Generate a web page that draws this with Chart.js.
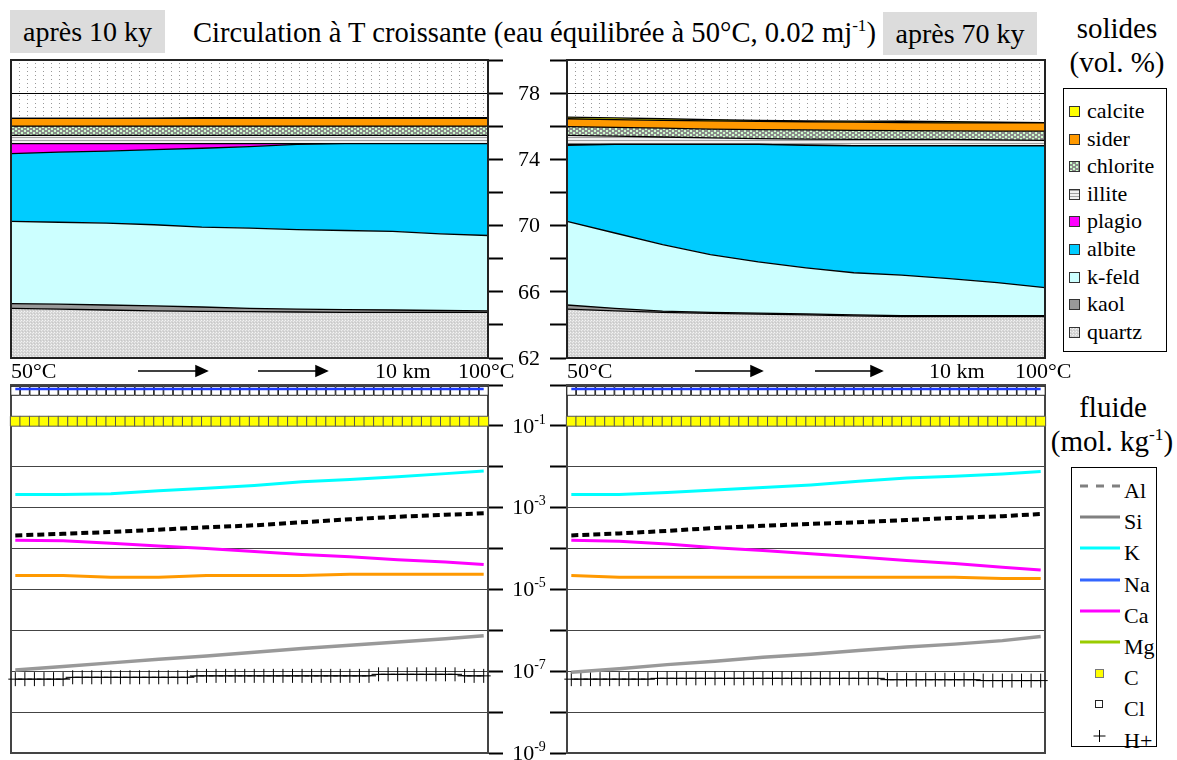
<!DOCTYPE html>
<html lang="fr">
<head>
<meta charset="utf-8">
<title>Circulation à T croissante</title>
<script src="https://cdn.jsdelivr.net/npm/chart.js@4.4.1/dist/chart.umd.min.js"></script>
<style>
  body { margin: 0; background: #fff; font-family: "Liberation Serif", "Times New Roman", serif; color: #000; }
  #page { position: relative; width: 1177px; height: 760px; overflow: hidden; }
  #page canvas { position: absolute; }
  .txt { position: absolute; white-space: nowrap; }
  .tag { position: absolute; background: #dcdcdc; font-size: 28px; height: 43px; line-height: 43px; text-align: center; }
  .axisTxt { position: absolute; font-size: 22px; line-height: 26px; white-space: nowrap; }
  .head { position: absolute; font-size: 29px; line-height: 36px; text-align: center; white-space: nowrap; }
  .legend { position: absolute; border: 1px solid #000; background: #fff; box-sizing: border-box; }
  .row { position: absolute; font-size: 22px; line-height: 24px; white-space: nowrap; }
  sup { font-size: 60%; line-height: 0; }
</style>
</head>
<body>
<div id="page">
  <div class="tag" style="left:10px;top:10px;width:155px;">après 10 ky</div>
  <div class="txt" style="left:193px;top:14px;font-size:28.6px;line-height:38px;">Circulation à T croissante (eau équilibrée à 50°C, 0.02 mj<sup>-1</sup>)</div>
  <div class="tag" style="left:883px;top:12px;width:154px;">après 70 ky</div>

  <div class="head" style="left:1057px;top:10px;width:120px;">solides</div>
  <div class="head" style="left:1057px;top:44px;width:120px;">(vol. %)</div>
  <div class="head" style="left:1053px;top:389px;width:120px;">fluide</div>
  <div class="head" style="left:1047px;top:423px;width:130px;">(mol. kg<sup>-1</sup>)</div>

  <canvas id="solid10" width="560" height="325" style="left:0;top:50px"></canvas>
  <canvas id="solid70" width="520" height="325" style="left:540px;top:50px"></canvas>
  <canvas id="fluid10" width="560" height="385" style="left:0;top:375px"></canvas>
  <canvas id="fluid70" width="520" height="385" style="left:540px;top:375px"></canvas>

  <div class="axisTxt" style="left:11px;top:358px;">50°C</div>
  <div class="axisTxt" style="left:375px;top:358px;">10 km</div>
  <div class="axisTxt" style="left:458px;top:358px;">100°C</div>
  <div class="axisTxt" style="left:567px;top:358px;">50°C</div>
  <div class="axisTxt" style="left:929px;top:358px;">10 km</div>
  <div class="axisTxt" style="left:1015px;top:358px;">100°C</div>
  <svg style="position:absolute;left:0;top:360px" width="1177" height="22">
    <g stroke="#000" stroke-width="1.5" fill="#000">
      <line x1="138" y1="11" x2="197" y2="11"/><polygon points="196,6 207,11 196,16"/>
      <line x1="258" y1="11" x2="317" y2="11"/><polygon points="316,6 327,11 316,16"/>
      <line x1="695" y1="11" x2="752" y2="11"/><polygon points="751,6 762,11 751,16"/>
      <line x1="815" y1="11" x2="872" y2="11"/><polygon points="871,6 882,11 871,16"/>
    </g>
  </svg>

  <div class="legend" id="solidLegend" style="left:1063px;top:88px;width:104px;height:264px;"></div>
  <div class="legend" id="fluidLegend" style="left:1071px;top:467px;width:86px;height:280px;"></div>
</div>

<script>
// ---- solids (vol. %), 11 points along the 10 km path ----
const distKm = [0, 1, 2, 3, 4, 5, 6, 7, 8, 9, 10];
const solidTicks = [62, 64, 66, 68, 70, 72, 74, 76, 78, 80];
const solidTickLabels = [62, 66, 70, 74, 78];

// stack order, bottom to top
const mineralNames = ['quartz', 'kaol', 'k-feld', 'albite', 'plagio', 'illite', 'chlorite', 'sider', 'calcite'];

// after 10 ky
const quartz10 = [65.0, 64.95, 64.9, 64.85, 64.82, 64.8, 64.78, 64.76, 64.75, 64.75, 64.75];
const kaol10 = [0.28, 0.3, 0.3, 0.3, 0.26, 0.2, 0.17, 0.16, 0.15, 0.12, 0.1];
const kfeld10 = [4.97, 4.95, 4.95, 4.9, 4.82, 4.85, 4.8, 4.78, 4.75, 4.63, 4.55];
const albite10 = [4.1, 4.23, 4.35, 4.54, 4.77, 4.92, 5.15, 5.25, 5.3, 5.45, 5.55];
const plagio10 = [0.6, 0.52, 0.45, 0.36, 0.28, 0.18, 0.05, 0, 0, 0, 0];
const illite10 = [0.5, 0.5, 0.5, 0.5, 0.5, 0.5, 0.5, 0.5, 0.5, 0.5, 0.5];
const chlorite10 = [0.55, 0.55, 0.55, 0.55, 0.55, 0.55, 0.55, 0.55, 0.55, 0.55, 0.55];
const sider10 = [0.48, 0.48, 0.48, 0.48, 0.48, 0.48, 0.48, 0.48, 0.48, 0.48, 0.48];
const calcite10 = [0, 0, 0, 0.01, 0.04, 0.04, 0.04, 0.04, 0.04, 0.04, 0.04];

// after 70 ky
const quartz70 = [64.95, 64.85, 64.75, 64.7, 64.65, 64.6, 64.55, 64.5, 64.5, 64.5, 64.5];
const kaol70 = [0.25, 0.15, 0.08, 0.06, 0.06, 0.06, 0.06, 0.06, 0.06, 0.06, 0.06];
const kfeld70 = [5.05, 4.55, 4.02, 3.49, 3.09, 2.79, 2.54, 2.44, 2.24, 1.99, 1.69];
const albite70 = [4.6, 5.35, 6.05, 6.65, 7.1, 7.4, 7.67, 7.82, 8.02, 8.27, 8.57];
const plagio70 = [0.05, 0, 0, 0, 0, 0, 0, 0, 0, 0, 0];
const illite70 = [0.55, 0.5, 0.45, 0.4, 0.35, 0.37, 0.38, 0.38, 0.38, 0.36, 0.33];
const chlorite70 = [0.52, 0.53, 0.53, 0.53, 0.55, 0.56, 0.55, 0.53, 0.52, 0.52, 0.55];
const sider70 = [0.48, 0.47, 0.47, 0.49, 0.5, 0.49, 0.5, 0.49, 0.48, 0.5, 0.5];
const calcite70 = [0.1, 0.1, 0.1, 0.08, 0.05, 0.05, 0.06, 0.08, 0.08, 0.04, 0.02];

// ---- fluid (mol/kg), log scale ----
const fluidTicks = [1e-9, 1e-8, 1e-7, 1e-6, 1e-5, 1e-4, 1e-3, 1e-2, 1e-1, 1];
const fluidTickExps = [-1, -3, -5, -7, -9];

// grid nodes (markers) and the nodes where the lines were read
const nodeIdx = [0, 1, 2, 3, 4, 5, 6, 7, 8, 9, 10, 11, 12, 13, 14, 15, 16, 17, 18, 19, 20, 21, 22, 23, 24,
  25, 26, 27, 28, 29, 30, 31, 32, 33, 34, 35, 36, 37, 38, 39, 40, 41, 42, 43, 44, 45, 46, 47, 48, 49];
const lineIdx = [0, 5, 10, 15, 20, 25, 30, 35, 40, 45, 49];

const al10 = [2.1e-4, 2.3e-4, 2.55e-4, 2.9e-4, 3.3e-4, 3.7e-4, 4.4e-4, 5.2e-4, 6.0e-4, 6.7e-4, 7.3e-4];
const si10 = [1.07e-7, 1.3e-7, 1.6e-7, 1.95e-7, 2.35e-7, 2.9e-7, 3.6e-7, 4.3e-7, 5.2e-7, 6.2e-7, 7.4e-7];
const k10 = [2.1e-3, 2.1e-3, 2.2e-3, 2.6e-3, 3.0e-3, 3.5e-3, 4.3e-3, 4.9e-3, 5.7e-3, 6.8e-3, 7.9e-3];
const na10 = [0.8, 0.8, 0.8, 0.8, 0.8, 0.8, 0.8, 0.8, 0.8, 0.8, 0.8];
const ca10 = [1.6e-4, 1.55e-4, 1.35e-4, 1.15e-4, 1.0e-4, 8.5e-5, 7.2e-5, 6.3e-5, 5.3e-5, 4.7e-5, 4.1e-5];
const mg10 = [2.2e-5, 2.2e-5, 2.0e-5, 2.0e-5, 2.2e-5, 2.2e-5, 2.2e-5, 2.35e-5, 2.35e-5, 2.35e-5, 2.35e-5];
const h10 = [6.4e-8, 6.4e-8, 6.4e-8, 6.4e-8, 6.4e-8, 6.4e-8, 7.1e-8, 7.1e-8, 7.1e-8, 7.1e-8,
  7.1e-8, 7.1e-8, 7.1e-8, 7.1e-8, 7.1e-8, 7.1e-8, 7.1e-8, 7.1e-8, 7.1e-8, 7.7e-8,
  7.7e-8, 7.7e-8, 7.7e-8, 7.7e-8, 7.7e-8, 7.7e-8, 7.7e-8, 7.7e-8, 7.7e-8, 7.7e-8,
  7.7e-8, 7.7e-8, 7.7e-8, 7.7e-8, 7.7e-8, 7.7e-8, 7.7e-8, 7.7e-8, 8.4e-8, 8.4e-8,
  8.4e-8, 8.4e-8, 8.4e-8, 8.4e-8, 8.4e-8, 8.4e-8, 8.4e-8, 7.7e-8, 7.7e-8, 7.7e-8];

const al70 = [2.1e-4, 2.35e-4, 2.7e-4, 3.2e-4, 3.6e-4, 4.0e-4, 4.4e-4, 5.0e-4, 5.6e-4, 6.2e-4, 7.0e-4];
const si70 = [9.5e-8, 1.15e-7, 1.45e-7, 1.75e-7, 2.2e-7, 2.6e-7, 3.2e-7, 3.9e-7, 4.6e-7, 5.6e-7, 7.1e-7];
const k70 = [2.1e-3, 2.1e-3, 2.35e-3, 2.7e-3, 3.1e-3, 3.6e-3, 4.4e-3, 5.3e-3, 5.9e-3, 6.7e-3, 7.7e-3];
const na70 = [0.8, 0.8, 0.8, 0.8, 0.8, 0.8, 0.8, 0.8, 0.8, 0.8, 0.8];
const ca70 = [1.6e-4, 1.5e-4, 1.3e-4, 1.05e-4, 9e-5, 7.5e-5, 6.2e-5, 5.1e-5, 4.3e-5, 3.5e-5, 3.0e-5];
const mg70 = [2.2e-5, 2.0e-5, 2.0e-5, 2.0e-5, 2.0e-5, 2.0e-5, 2.0e-5, 2.0e-5, 2.0e-5, 1.85e-5, 1.85e-5];
const h70 = [6.4e-8, 6.4e-8, 6.4e-8, 6.4e-8, 6.4e-8, 6.4e-8, 6.4e-8, 6.4e-8, 6.4e-8, 6.7e-8,
  6.7e-8, 6.7e-8, 6.7e-8, 6.7e-8, 6.7e-8, 6.7e-8, 6.7e-8, 6.7e-8, 6.7e-8, 6.7e-8,
  6.7e-8, 6.7e-8, 6.7e-8, 6.7e-8, 6.7e-8, 6.7e-8, 6.7e-8, 6.7e-8, 6.7e-8, 6.7e-8,
  6.7e-8, 6.7e-8, 6.7e-8, 6.2e-8, 6.2e-8, 6.2e-8, 6.2e-8, 6.2e-8, 6.2e-8, 6.2e-8,
  6.2e-8, 6.2e-8, 6.2e-8, 5.9e-8, 5.9e-8, 5.9e-8, 5.9e-8, 5.9e-8, 5.9e-8, 5.9e-8];

// C and Cl are flat in both runs
const cMolal = [0.13, 0.13, 0.13, 0.13, 0.13, 0.13, 0.13, 0.13, 0.13, 0.13, 0.13, 0.13, 0.13, 0.13, 0.13,
  0.13, 0.13, 0.13, 0.13, 0.13, 0.13, 0.13, 0.13, 0.13, 0.13, 0.13, 0.13, 0.13, 0.13, 0.13, 0.13, 0.13,
  0.13, 0.13, 0.13, 0.13, 0.13, 0.13, 0.13, 0.13, 0.13, 0.13, 0.13, 0.13, 0.13, 0.13, 0.13, 0.13, 0.13, 0.13];
const clMolal = [0.72, 0.72, 0.72, 0.72, 0.72, 0.72, 0.72, 0.72, 0.72, 0.72, 0.72, 0.72, 0.72, 0.72, 0.72,
  0.72, 0.72, 0.72, 0.72, 0.72, 0.72, 0.72, 0.72, 0.72, 0.72, 0.72, 0.72, 0.72, 0.72, 0.72, 0.72, 0.72,
  0.72, 0.72, 0.72, 0.72, 0.72, 0.72, 0.72, 0.72, 0.72, 0.72, 0.72, 0.72, 0.72, 0.72, 0.72, 0.72, 0.72, 0.72];

// ---- fill patterns ----
const makeTile = (w, h, base, dots) => {
  const c = document.createElement('canvas');
  c.width = w; c.height = h;
  const g = c.getContext('2d');
  g.fillStyle = base;
  g.fillRect(0, 0, w, h);
  dots.forEach(([x, y, dw, dh, col]) => { g.fillStyle = col; g.fillRect(x, y, dw, dh); });
  return c;
};

const bgTile = makeTile(8, 4, '#ffffff', [[3, 1, 1, 1, '#999999']]);
const quartzTile = makeTile(3, 3, '#d6d6d6', [[0, 0, 1, 1, '#f4f4f4'], [2, 1, 1, 1, '#ececec'], [1, 2, 1, 1, '#c8c8c8']]);
const illiteTile = makeTile(4, 3, '#f0f0f0', [[0, 0, 4, 1, '#a0a0a0']]);
const chloriteTile = makeTile(6, 4, '#8c8c8c', [[0, 0, 2, 2, '#ccffcc'], [3, 2, 2, 2, '#ccffcc']]);

const patCtx = document.createElement('canvas').getContext('2d');
const asPattern = tile => patCtx.createPattern(tile, 'repeat');

const mineralFill = {
  'quartz': asPattern(quartzTile),
  'kaol': '#999999',
  'k-feld': '#ccffff',
  'albite': '#00ccff',
  'plagio': '#ff00ff',
  'illite': asPattern(illiteTile),
  'chlorite': asPattern(chloriteTile),
  'sider': '#ff9900',
  'calcite': '#ffff00'
};
const mineralCss = {
  'quartz': `url(${quartzTile.toDataURL()})`,
  'kaol': '#999999',
  'k-feld': '#ccffff',
  'albite': '#00ccff',
  'plagio': '#ff00ff',
  'illite': `url(${illiteTile.toDataURL()})`,
  'chlorite': `url(${chloriteTile.toDataURL()})`,
  'sider': '#ff9900',
  'calcite': '#ffff00'
};

// ---- plugins ----
const strokeFrame = (chart, opts) => {
  const { ctx, chartArea: a } = chart;
  ctx.save();
  ctx.strokeStyle = opts.color;
  ctx.lineWidth = opts.width;
  ctx.strokeRect(a.left, a.top, a.right - a.left, a.bottom - a.top);
  ctx.restore();
};

const framePlugin = {
  id: 'frame',
  beforeDraw(chart, args, opts) {
    if (!opts.bg) return;
    const { ctx, chartArea: a } = chart;
    ctx.save();
    ctx.fillStyle = opts.bg;
    ctx.fillRect(a.left, a.top, a.right - a.left, a.bottom - a.top);
    ctx.restore();
  },
  beforeDatasetsDraw(chart, args, opts) {
    if (opts.under) strokeFrame(chart, opts);
  },
  afterDraw(chart, args, opts) {
    if (!opts.under) strokeFrame(chart, opts);
  }
};

// value labels between the two panels, drawn from the left panel's axis
const centreLabels = {
  id: 'centreLabels',
  afterDraw(chart, args, opts) {
    if (!opts.show) return;
    const { ctx, chartArea } = chart;
    const yScale = chart.scales.y;
    const cx = chartArea.right + opts.dx;
    ctx.save();
    ctx.fillStyle = '#000';
    ctx.textBaseline = 'middle';
    if (opts.log) {
      fluidTickExps.forEach(exp => {
        const py = yScale.getPixelForValue(Math.pow(10, exp));
        ctx.font = '22px "Liberation Serif"';
        const wb = ctx.measureText('10').width;
        ctx.font = '14px "Liberation Serif"';
        const ws = ctx.measureText(String(exp)).width;
        const x0 = cx - (wb + ws) / 2;
        ctx.textAlign = 'left';
        ctx.font = '22px "Liberation Serif"';
        ctx.fillText('10', x0, py + 1);
        ctx.font = '14px "Liberation Serif"';
        ctx.fillText(String(exp), x0 + wb, py - 6);
      });
    } else {
      ctx.textAlign = 'center';
      ctx.font = '22px "Liberation Serif"';
      solidTickLabels.forEach(v => ctx.fillText(String(v), cx, yScale.getPixelForValue(v) + 1));
    }
    ctx.restore();
  }
};

Chart.register(framePlugin, centreLabels);

const axisY = (side, extra) => Object.assign({
  position: side,
  ticks: { display: false },
  grid: { color: '#000', lineWidth: 1, drawTicks: true, tickLength: side === 'right' ? 15 : 17, tickColor: '#000', tickWidth: 2 },
  border: { display: true, color: '#222', width: 2 },
  afterFit: s => { s.width = side === 'right' ? 15 : 17; }
}, extra);

const paddingFor = (side, bottom) => side === 'right'
  ? { left: 11, right: 57, top: 10, bottom: bottom }
  : { left: 10, right: 15, top: 10, bottom: bottom };

const createSolidChart = (id, layers, side) => {
  const datasets = mineralNames.map((name, i) => ({
    label: name,
    data: layers[i],
    fill: i === 0 ? 'start' : '-1',
    backgroundColor: mineralFill[name],
    borderColor: '#000',
    borderWidth: 1.3,
    pointRadius: 0,
    tension: 0
  }));

  return new Chart(document.getElementById(id), {
    type: 'line',
    data: { labels: distKm, datasets: datasets },
    options: {
      responsive: false,
      animation: false,
      devicePixelRatio: 1,
      layout: { autoPadding: false, padding: paddingFor(side, 17) },
      scales: {
        x: { type: 'category', display: false, offset: false },
        y: axisY(side, {
          type: 'linear', min: 62, max: 80, stacked: true,
          afterBuildTicks: s => { s.ticks = solidTicks.map(v => ({ value: v })); }
        })
      },
      plugins: {
        legend: { display: false },
        tooltip: { enabled: false },
        frame: { bg: asPattern(bgTile), color: '#222', width: 2, under: false },
        centreLabels: { show: side === 'right', dx: 41, log: false }
      }
    }
  });
};

const createFluidChart = (id, s, side) => {
  const pts = (xs, ys) => xs.map((x, i) => ({ x: x, y: ys[i] }));
  const line = (label, ys, color, width, dash) => ({
    label: label, data: pts(lineIdx, ys), borderColor: color, borderWidth: width,
    borderDash: dash || [], pointRadius: 0, tension: 0, fill: false
  });

  const datasets = [
    line('Na', s.na, '#1f3cff', 2.5),
    {
      label: 'Cl', data: pts(nodeIdx, clMolal), showLine: false, pointStyle: 'rect',
      pointRadius: 6.3, pointBackgroundColor: '#ffffff', pointBorderColor: '#222', pointBorderWidth: 1, clip: false
    },
    {
      label: 'C', data: pts(nodeIdx, cMolal), showLine: false, pointStyle: 'rect',
      pointRadius: 7, pointBackgroundColor: '#ffff00', pointBorderColor: '#555', pointBorderWidth: 1, clip: false
    },
    line('K', s.k, '#00ffff', 3),
    line('Al', s.al, '#000000', 4, [7, 4]),
    line('Ca', s.ca, '#ff00ff', 3),
    line('Mg', s.mg, '#ff9900', 3),
    line('Si', s.si, '#999999', 3.5),
    {
      label: 'H+', data: pts(nodeIdx, s.h), borderColor: '#000', borderWidth: 1, tension: 0,
      pointStyle: 'cross', pointRadius: 7, pointBorderColor: '#000', pointBorderWidth: 1, clip: false
    }
  ];

  return new Chart(document.getElementById(id), {
    type: 'line',
    data: { datasets: datasets },
    options: {
      responsive: false,
      animation: false,
      devicePixelRatio: 1,
      layout: { autoPadding: false, padding: paddingFor(side, 7) },
      scales: {
        x: { type: 'linear', min: -0.45, max: 49.45, display: false },
        y: axisY(side, {
          type: 'logarithmic', min: 1e-9, max: 1,
          grid: { color: '#444', lineWidth: 1, drawTicks: true, tickLength: side === 'right' ? 15 : 17, tickColor: '#000', tickWidth: 2 },
          afterBuildTicks: sc => { sc.ticks = fluidTicks.map(v => ({ value: v })); }
        })
      },
      plugins: {
        legend: { display: false },
        tooltip: { enabled: false },
        frame: { color: '#444', width: 2, under: true },
        centreLabels: { show: side === 'right', dx: 41, log: true }
      }
    }
  });
};

createSolidChart('solid10', [quartz10, kaol10, kfeld10, albite10, plagio10, illite10, chlorite10, sider10, calcite10], 'right');
createSolidChart('solid70', [quartz70, kaol70, kfeld70, albite70, plagio70, illite70, chlorite70, sider70, calcite70], 'left');
createFluidChart('fluid10', { al: al10, si: si10, k: k10, na: na10, ca: ca10, mg: mg10, h: h10 }, 'right');
createFluidChart('fluid70', { al: al70, si: si70, k: k70, na: na70, ca: ca70, mg: mg70, h: h70 }, 'left');

// ---- legends ----
const solidLegendElem = document.getElementById('solidLegend');
mineralNames.slice().reverse().forEach((name, i) => {
  const cy = 23 + i * 27.6;
  const sw = document.createElement('div');
  sw.style.cssText = `position:absolute;left:5px;top:${cy - 6}px;width:9px;height:9px;border:1px solid #333;background:${mineralCss[name]};`;
  const label = document.createElement('div');
  label.className = 'row';
  label.style.left = '23px';
  label.style.top = `${cy - 13}px`;
  label.textContent = name;
  solidLegendElem.appendChild(sw);
  solidLegendElem.appendChild(label);
});

const fluidLegendItems = [
  ['Al', '<line x1="8" y1="10" x2="48" y2="10" stroke="#808080" stroke-width="3" stroke-dasharray="8,8"/>'],
  ['Si', '<line x1="8" y1="10" x2="48" y2="10" stroke="#808080" stroke-width="3"/>'],
  ['K', '<line x1="8" y1="10" x2="48" y2="10" stroke="#00ffff" stroke-width="3"/>'],
  ['Na', '<line x1="8" y1="10" x2="48" y2="10" stroke="#3366ff" stroke-width="3"/>'],
  ['Ca', '<line x1="8" y1="10" x2="48" y2="10" stroke="#ff00ff" stroke-width="3"/>'],
  ['Mg', '<line x1="8" y1="10" x2="48" y2="10" stroke="#99cc00" stroke-width="3"/>'],
  ['C', '<rect x="23.5" y="6.5" width="8" height="8" fill="#ffff00" stroke="#777" stroke-width="1"/>'],
  ['Cl', '<rect x="23.5" y="6.5" width="7" height="7" fill="#ffffff" stroke="#222" stroke-width="1"/>'],
  ['H+', '<path d="M27.5 4 V16 M21.5 10 H33.5" stroke="#000" stroke-width="1"/>']
];
const fluidLegendElem = document.getElementById('fluidLegend');
fluidLegendItems.forEach(([name, symbol], i) => {
  const cy = 18 + i * 31.2;
  const svg = document.createElementNS('http://www.w3.org/2000/svg', 'svg');
  svg.setAttribute('width', '56');
  svg.setAttribute('height', '20');
  svg.style.cssText = `position:absolute;left:0;top:${cy - 10}px;`;
  svg.innerHTML = symbol;
  const label = document.createElement('div');
  label.className = 'row';
  label.style.left = '52px';
  label.style.top = `${cy - 7}px`;
  label.textContent = name;
  fluidLegendElem.appendChild(svg);
  fluidLegendElem.appendChild(label);
});
</script>
</body>
</html>
